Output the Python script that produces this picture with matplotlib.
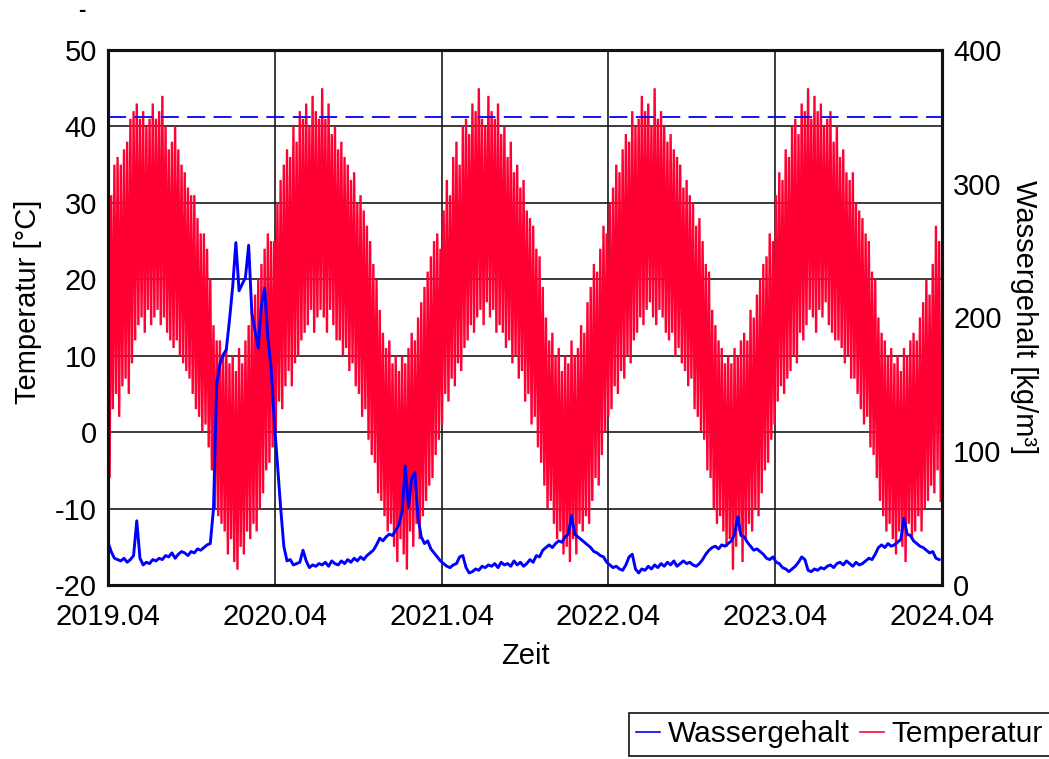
"""Temperatur und Wassergehalt 2019-2024"""

import numpy as np
import matplotlib
matplotlib.use('Agg')
import matplotlib.pyplot as plt
from matplotlib.lines import Line2D

plt.rcParams['font.family'] = ['Liberation Sans', 'DejaVu Sans']
plt.rcParams['lines.scale_dashes'] = False
plt.rcParams['axes.unicode_minus'] = False

year_labels = ['2019.04', '2020.04', '2021.04', '2022.04', '2023.04', '2024.04']

# Wochen-Maxima / -Minima der Temperatur in °C, je Jahr ab April
temp_max_y1 = [27, 31, 35, 36, 35, 37, 38, 41, 42, 43, 41, 42, 40, 41, 43,
               41, 42, 44, 40, 37, 38, 40, 37, 35, 34, 32, 31, 31, 28, 26,
               26, 24, 20, 14, 12, 12, 10, 11, 9, 10, 8, 11, 9, 12, 14,
               16, 18, 20, 22, 24, 26, 25]
temp_min_y1 = [-6, 3, 5, 2, 6, 7, 5, 9, 12, 14, 15, 13, 16, 14, 15,
               16, 14, 15, 13, 12, 11, 12, 10, 9, 8, 7, 5, 3, 2, 0,
               1, -2, -5, -10, -11, -12, -13, -16, -14, -17, -18, -15, -16, -13, -14,
               -12, -13, -10, -8, -5, -4, -2]
temp_max_y2 = [25, 30, 33, 35, 37, 36, 40, 38, 42, 41, 43, 40, 44, 42, 41,
               45, 41, 43, 39, 40, 37, 38, 36, 35, 33, 34, 30, 31, 29, 27,
               25, 22, 20, 16, 13, 11, 12, 9, 10, 8, 10, 9, 11, 13, 12,
               15, 17, 19, 21, 23, 25, 26]
temp_min_y2 = [0, 4, 3, 6, 8, 6, 9, 10, 12, 13, 14, 16, 13, 15, 16,
               15, 13, 16, 14, 12, 12, 10, 11, 8, 9, 6, 5, 2, 3, -1,
               -3, -4, -8, -9, -11, -13, -12, -15, -17, -14, -16, -18, -13, -15, -12,
               -14, -11, -9, -7, -6, -3, -1]
temp_max_y3 = [24, 29, 33, 31, 36, 38, 35, 40, 41, 39, 43, 42, 45, 41, 40,
               44, 42, 41, 43, 39, 40, 36, 38, 34, 35, 32, 33, 29, 28, 27,
               24, 23, 19, 15, 12, 13, 10, 11, 8, 10, 9, 12, 10, 11, 14,
               13, 17, 19, 22, 21, 24, 27]
temp_min_y3 = [1, 5, 4, 7, 6, 9, 8, 11, 12, 14, 13, 15, 16, 14, 17,
               15, 16, 13, 14, 13, 11, 12, 9, 10, 7, 8, 4, 5, 1, 2,
               -2, -4, -7, -10, -9, -12, -14, -13, -16, -15, -17, -14, -16, -12, -13,
               -11, -12, -9, -6, -7, -3, 0]
temp_max_y4 = [26, 30, 32, 35, 34, 37, 39, 38, 42, 40, 41, 44, 42, 43, 40,
               45, 41, 42, 40, 38, 39, 37, 36, 35, 32, 33, 31, 30, 27, 28,
               25, 22, 21, 16, 14, 12, 11, 9, 10, 9, 11, 10, 12, 13, 12,
               16, 15, 18, 20, 22, 23, 26]
temp_min_y4 = [2, 3, 6, 5, 8, 7, 10, 9, 12, 13, 15, 14, 16, 17, 15,
               14, 16, 15, 13, 12, 13, 10, 11, 9, 8, 6, 7, 3, 2, 0,
               -1, -5, -6, -10, -12, -11, -13, -15, -14, -18, -15, -13, -17, -14, -12,
               -13, -10, -11, -8, -5, -4, -1]
temp_max_y5 = [25, 31, 34, 33, 37, 36, 40, 41, 39, 43, 42, 45, 41, 44, 42,
               43, 40, 41, 42, 38, 40, 36, 37, 34, 33, 34, 30, 29, 28, 26,
               25, 21, 20, 15, 13, 12, 10, 11, 9, 10, 8, 11, 10, 12, 13,
               12, 15, 17, 20, 18, 22, 27, 25]
temp_min_y5 = [1, 4, 6, 5, 7, 8, 10, 9, 13, 12, 14, 16, 15, 13, 16,
               15, 17, 14, 13, 12, 12, 11, 9, 10, 7, 7, 5, 3, 1, 2,
               -2, -3, -6, -9, -11, -13, -12, -14, -16, -13, -15, -17, -12, -14, -13,
               -11, -13, -10, -9, -7, -8, -5, -9]

# Wassergehalt in kg/m³, Wochenwerte
water_y1 = [32, 25, 20, 19, 18, 20, 17, 19, 22, 48, 20, 15, 17, 16, 19,
            18, 20, 19, 22, 21, 24, 20, 23, 25, 24, 22, 25, 24, 27, 26,
            28, 30, 31, 57, 150, 165, 172, 176, 198, 223, 256, 220, 225, 230, 254,
            203, 190, 177, 210, 222, 185, 163]
water_y2 = [123, 91, 58, 29, 18, 19, 15, 16, 17, 26, 18, 13, 15, 14, 16,
            15, 17, 14, 18, 16, 15, 18, 16, 19, 17, 20, 18, 21, 19, 22,
            24, 26, 30, 35, 33, 36, 38, 37, 41, 45, 55, 89, 58, 80, 84,
            50, 36, 31, 33, 27, 24, 21]
water_y3 = [18, 16, 14, 13, 15, 16, 21, 22, 13, 9, 10, 12, 11, 14, 13,
            15, 14, 16, 13, 17, 15, 16, 14, 18, 15, 17, 14, 16, 19, 17,
            22, 21, 26, 28, 30, 28, 31, 33, 32, 36, 38, 52, 38, 36, 34,
            32, 30, 28, 25, 24, 22, 21]
water_y4 = [17, 15, 13, 14, 12, 11, 15, 21, 23, 12, 9, 12, 11, 14, 12,
            15, 13, 16, 14, 17, 15, 18, 14, 16, 18, 16, 17, 15, 14, 16,
            19, 23, 26, 28, 29, 27, 30, 29, 31, 33, 38, 51, 37, 36, 32,
            29, 26, 27, 25, 23, 20, 19]
water_y5 = [21, 17, 16, 13, 12, 10, 12, 14, 17, 21, 19, 11, 10, 12, 11,
            13, 12, 14, 15, 13, 16, 17, 15, 18, 16, 14, 17, 15, 16, 18,
            20, 19, 23, 28, 30, 28, 31, 29, 30, 32, 34, 50, 38, 37, 33,
            31, 29, 28, 26, 24, 25, 20, 19]

water_max = 350  # kg/m³, gestrichelte Linie


def weeks_to_years(n, offset=0.0):
    """Wochenindex in Jahre ab 2019.04 umrechnen"""
    return (np.arange(n) * 7 + offset) / 365.25


def main():
    temp_max = temp_max_y1 + temp_max_y2 + temp_max_y3 + temp_max_y4 + temp_max_y5
    temp_min = temp_min_y1 + temp_min_y2 + temp_min_y3 + temp_min_y4 + temp_min_y5
    water = water_y1 + water_y2 + water_y3 + water_y4 + water_y5

    # Max und Min abwechselnd -> Tagesschwankung als Zickzack
    t_hi = weeks_to_years(len(temp_max))
    t_lo = weeks_to_years(len(temp_min), offset=3.5)
    t_temp = np.ravel(np.column_stack([t_hi, t_lo]))
    temp = np.ravel(np.column_stack([temp_max, temp_min]))
    t_water = weeks_to_years(len(water))

    fig = plt.figure(figsize=(10.49, 7.59), dpi=100)
    ax = fig.add_axes([108 / 1049, 1 - 585 / 759, 834 / 1049, 535 / 759])
    ax2 = ax.twinx()

    red = '#ff0033'
    blue = '#0000ff'
    fs = 21

    ax.plot(t_temp, temp, color=red, lw=1.7, solid_joinstyle='miter')
    ax2.plot(t_water, water, color=blue, lw=2.1)
    ax2.axhline(water_max, color=blue, lw=1.3, dashes=(13, 6))

    ax.set_xlim(0, 5)
    ax.set_ylim(-20, 50)
    ax2.set_ylim(0, 400)
    ax.set_xticks(range(6))
    ax.set_xticklabels(year_labels)
    ax.set_yticks(range(-20, 51, 10))
    ax2.set_yticks(range(0, 401, 100))

    ax.grid(True, color='#1a1a1a', lw=1.2)
    ax.set_axisbelow(True)
    for a in (ax, ax2):
        a.tick_params(length=0, labelsize=fs, pad=8)
        for sp in a.spines.values():
            sp.set_linewidth(2.2)
            sp.set_color('#111111')
    ax.tick_params(axis='x', pad=13)

    ax.set_xlabel('Zeit', fontsize=fs, labelpad=8)
    ax.set_ylabel('Temperatur [°C]', fontsize=fs)
    ax.yaxis.set_label_coords(-0.079, 0.53)
    ax2.set_ylabel('Wassergehalt [kg/m³]', fontsize=fs, rotation=-90, labelpad=26)

    fig.text(82 / 1049, 1 - 10 / 759, '-', fontsize=16, fontweight='bold',
             ha='center', va='center')

    handles = [Line2D([], [], color=blue, lw=1.2),
               Line2D([], [], color=red, lw=1.2)]
    leg = fig.legend(handles, ['Wassergehalt', 'Temperatur'], ncol=2,
                     loc='upper left', bbox_to_anchor=(629 / 1049, 1 - 713 / 759),
                     fontsize=21.5, frameon=True, fancybox=False, framealpha=1,
                     edgecolor='#111111', handlelength=0.8, handletextpad=0.25,
                     columnspacing=0.35, borderpad=0.25, borderaxespad=0)
    leg.get_frame().set_linewidth(1.2)

    fig.savefig('out.png', dpi=100)


if __name__ == "__main__":
    main()
